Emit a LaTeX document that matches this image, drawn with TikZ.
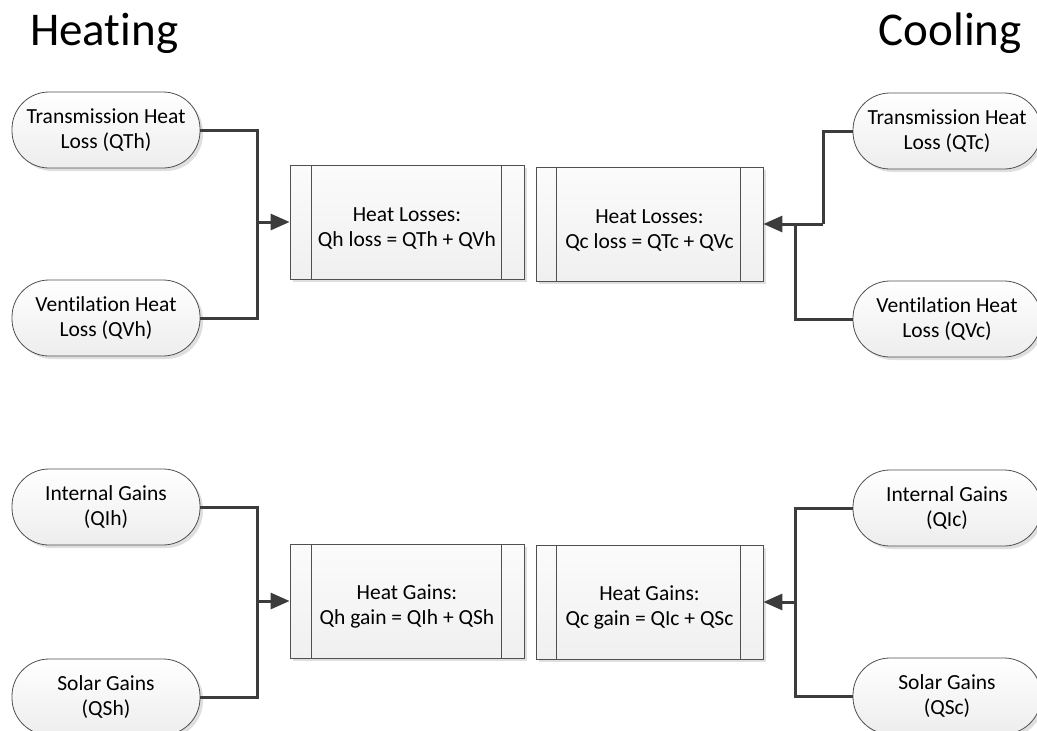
\documentclass[tikz,border=0pt]{standalone}
\usepackage{fontspec}
\setmainfont{Carlito}[Ligatures=NoCommon]
\usetikzlibrary{arrows.meta,shadows,calc}
\definecolor{linec}{HTML}{3C3C3C}
\definecolor{edgec}{HTML}{505050}
\newcommand{\upstrut}{\rule{0pt}{26pt}}
\tikzset{
  term/.style={draw=edgec, line width=0.8pt, rounded corners=37pt,
    minimum width=188pt, minimum height=76pt, inner sep=0pt,
    top color=white, bottom color=gray!14, align=center,
    font=\fontsize{21.5}{25}\selectfont,
    drop shadow={shadow xshift=3pt, shadow yshift=-3pt, fill=gray!25, opacity=1}},
  procbox/.style={draw=edgec, line width=0.8pt, minimum height=114pt, inner sep=0pt,
    top color=gray!3, bottom color=gray!12, align=center,
    font=\fontsize{21.5}{25}\selectfont,
    drop shadow={shadow xshift=3pt, shadow yshift=-3pt, fill=gray!25, opacity=1}},
  conn/.style={draw=linec, line width=3pt},
  arr/.style={conn, -{Triangle[length=19pt,width=16pt]}},
  title/.style={font=\fontsize{47}{50}\selectfont, inner sep=0pt}
}
\begin{document}
\begin{tikzpicture}[x=1pt,y=-1pt]
\useasboundingbox (0,0) rectangle (1037,731);
% titles
\node[title, anchor=base west] (th) at (30,45) {Heating};
\node[title, anchor=base east] (tc) at (1022,45) {Cooling};
% left stadiums
\node[term] (tqh) at (106,130) {Transmission Heat\\Loss (QTh)};
\node[term] (vqh) at (106,318) {Ventilation Heat\\Loss (QVh)};
\node[term] (iqh) at (106,507) {Internal Gains\\(QIh)};
\node[term] (sqh) at (106,697) {Solar Gains\\(QSh)};
% right stadiums
\node[term] (tqc) at (947,131) {Transmission Heat\\Loss (QTc)};
\node[term] (vqc) at (947,319) {Ventilation Heat\\Loss (QVc)};
\node[term] (iqc) at (947,508) {Internal Gains\\(QIc)};
\node[term] (sqc) at (947,696) {Solar Gains\\(QSc)};
% process boxes
\node[procbox, minimum width=234pt] (b1) at (407,222) {\upstrut Heat Losses:\\Qh loss = QTh + QVh};
\node[procbox, minimum width=227pt] (b2) at (649.5,224) {\upstrut Heat Losses:\\Qc loss = QTc + QVc};
\node[procbox, minimum width=234pt] (b3) at (407,601) {\upstrut Heat Gains:\\Qh gain = QIh + QSh};
\node[procbox, minimum width=227pt] (b4) at (649.5,602) {\upstrut Heat Gains:\\Qc gain = QIc + QSc};
% inner band lines
\foreach \b in {b1,b3}{
  \draw[edgec, line width=0.8pt] ($(\b.north west)+(22,0)$) -- ($(\b.south west)+(22,0)$);
  \draw[edgec, line width=0.8pt] ($(\b.north east)+(-23,0)$) -- ($(\b.south east)+(-23,0)$);
}
\foreach \b in {b2,b4}{
  \draw[edgec, line width=0.8pt] ($(\b.north west)+(21,0)$) -- ($(\b.south west)+(21,0)$);
  \draw[edgec, line width=0.8pt] ($(\b.north east)+(-23,0)$) -- ($(\b.south east)+(-23,0)$);
}
% junctions
\coordinate (j1) at (257,222);
\coordinate (j2) at (823,224);
\coordinate (j2b) at (795,224);
\coordinate (j3) at (257,601);
\coordinate (j4) at (795,602);
% connectors left top
\draw[conn] (tqh.east) -| (j1) |- (vqh.east);
\draw[arr] (j1) -- (b1.west);
% right top
\draw[conn] (tqc.west) -| (j2);
\draw[conn] (vqc.west) -| (j2b);
\draw[arr] (j2) -- (b2.east);
% left bottom
\draw[conn] (iqh.east) -| (j3) |- (sqh.east);
\draw[arr] (j3) -- (b3.west);
% right bottom
\draw[conn] (iqc.west) -| (j4) |- (sqc.west);
\draw[arr] (j4) -- (b4.east);
\end{tikzpicture}
\end{document}
